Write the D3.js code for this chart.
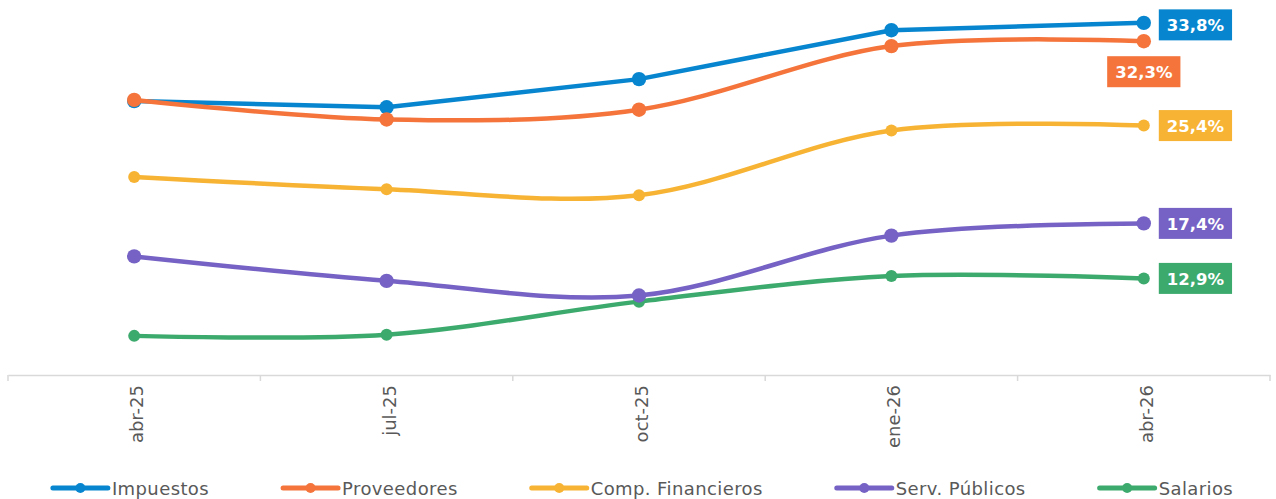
<!DOCTYPE html>
<html>
<head>
<meta charset="utf-8">
<script src="https://cdn.jsdelivr.net/npm/d3@7"></script>
<style>
  html, body { margin: 0; padding: 0; background: #fff; }
  svg { display: block; }
</style>
</head>
<body>
<svg id="chart" width="1276" height="499"></svg>
<script>
const categories = ["abr-25", "jul-25", "oct-25", "ene-26", "abr-26"];
const seriesNames = ["Impuestos", "Proveedores", "Comp. Financieros", "Serv. Públicos", "Salarios"];
const impuestos = [27.4, 26.9, 29.2, 33.2, 33.8];
const proveedores = [27.5, 25.9, 26.7, 31.9, 32.3];
const compFinancieros = [21.2, 20.2, 19.7, 25.0, 25.4];
const servPublicos = [14.7, 12.7, 11.5, 16.4, 17.4];
const salarios = [8.2, 8.3, 11.0, 13.1, 12.9];
const colors = ["#0786cf", "#f4743b", "#f7b333", "#7562c4", "#3caa6d"];
const yDomain = [5, 35];

const seriesValues = [impuestos, proveedores, compFinancieros, servPublicos, salarios];
const markerR = [7.2, 7.2, 6, 7.2, 6];
const smoothed = [false, true, true, true, true];
// label placement: "right" or "below"
const labelPlace = ["right", "below", "right", "right", "right"];
const labelDy = [2, 0, 0, 0, 0];

const svg = d3.select("#chart");
const FONT = "'DejaVu Sans', sans-serif";

const x = d3.scaleBand().domain(categories).range([8, 1270]).padding(0);
const cx = c => x(c) + x.bandwidth() / 2;
const y = d3.scaleLinear().domain(yDomain).range([375, 8.2]);

// axis
const axisY = 375;
const axisG = svg.append("g").attr("transform", `translate(0,${axisY})`)
  .call(d3.axisBottom(x).tickSize(0).tickSizeOuter(0));
axisG.select(".domain").attr("stroke", "#d9d9d9").attr("stroke-width", 1.5);
axisG.selectAll(".tick text").remove();
const bounds = categories.map(c => x(c)).concat([x.range()[1]]);
axisG.selectAll("line.bt").data(bounds).enter().append("line")
  .attr("class", "bt")
  .attr("x1", d => d).attr("x2", d => d)
  .attr("y1", 0).attr("y2", 6)
  .attr("stroke", "#d9d9d9").attr("stroke-width", 1.5);

svg.append("g").selectAll("text").data(categories).enter().append("text")
  .attr("transform", d => `translate(${cx(d) + 9},385) rotate(-90)`)
  .attr("text-anchor", "end")
  .attr("font-family", FONT)
  .attr("font-size", 18)
  .attr("fill", "#595959")
  .text(d => d);

// lines
const makeLine = smooth => d3.line()
  .x((d, i) => cx(categories[i]))
  .y(d => y(d))
  .curve(smooth ? d3.curveCardinal.tension(0) : d3.curveLinear);

const order = [4, 3, 2, 0, 1];
order.forEach(si => {
  const g = svg.append("g");
  g.append("path")
    .datum(seriesValues[si])
    .attr("d", makeLine(smoothed[si]))
    .attr("fill", "none")
    .attr("stroke", colors[si])
    .attr("stroke-width", 4.5)
    .attr("stroke-linecap", "round")
    .attr("stroke-linejoin", "round");
  g.selectAll("circle").data(seriesValues[si]).enter().append("circle")
    .attr("cx", (d, i) => cx(categories[i]))
    .attr("cy", d => y(d))
    .attr("r", markerR[si])
    .attr("fill", colors[si]);
});

// end labels
const fmt = v => v.toFixed(1).replace(".", ",") + "%";
seriesValues.forEach((vals, si) => {
  const last = vals[vals.length - 1];
  const px = cx(categories[categories.length - 1]);
  const py = y(last);
  const g = svg.append("g");
  const t = g.append("text")
    .attr("font-family", FONT)
    .attr("font-weight", "bold")
    .attr("font-size", 16.5)
    .attr("fill", "#fff")
    .attr("text-anchor", "middle")
    .attr("dominant-baseline", "central")
    .text(fmt(last));
  const w = t.node().getComputedTextLength() + 16;
  const h = 31;
  let bx, by;
  if (labelPlace[si] === "right") {
    bx = px + 15;
    by = py + labelDy[si] - h / 2;
  } else {
    bx = px - w / 2;
    by = py + 15;
  }
  g.insert("rect", "text")
    .attr("x", bx).attr("y", by)
    .attr("width", w).attr("height", h)
    .attr("fill", colors[si]);
  t.attr("x", bx + w / 2).attr("y", by + h / 2 + 1);
});

// legend
const legendY = 488;
const lg = svg.append("g");
const items = seriesNames.map((name, si) => {
  const g = lg.append("g");
  g.append("line").attr("x1", 0).attr("x2", 55).attr("y1", 0).attr("y2", 0)
    .attr("stroke", colors[si]).attr("stroke-width", 5).attr("stroke-linecap", "round");
  g.append("circle").attr("cx", 27.5).attr("cy", 0).attr("r", 5).attr("fill", colors[si]);
  const t = g.append("text").attr("x", 59).attr("y", 7)
    .attr("font-family", FONT).attr("font-size", 18)
    .attr("letter-spacing", "0.4px")
    .attr("fill", "#595959").text(name);
  const w = 59 + t.node().getComputedTextLength();
  return { g, w };
});
const gap = 74;
const totalW = d3.sum(items, d => d.w) + gap * (items.length - 1);
let lx = 643 - totalW / 2;
items.forEach(it => {
  it.g.attr("transform", `translate(${lx},${legendY})`);
  lx += it.w + gap;
});
</script>
</body>
</html>
